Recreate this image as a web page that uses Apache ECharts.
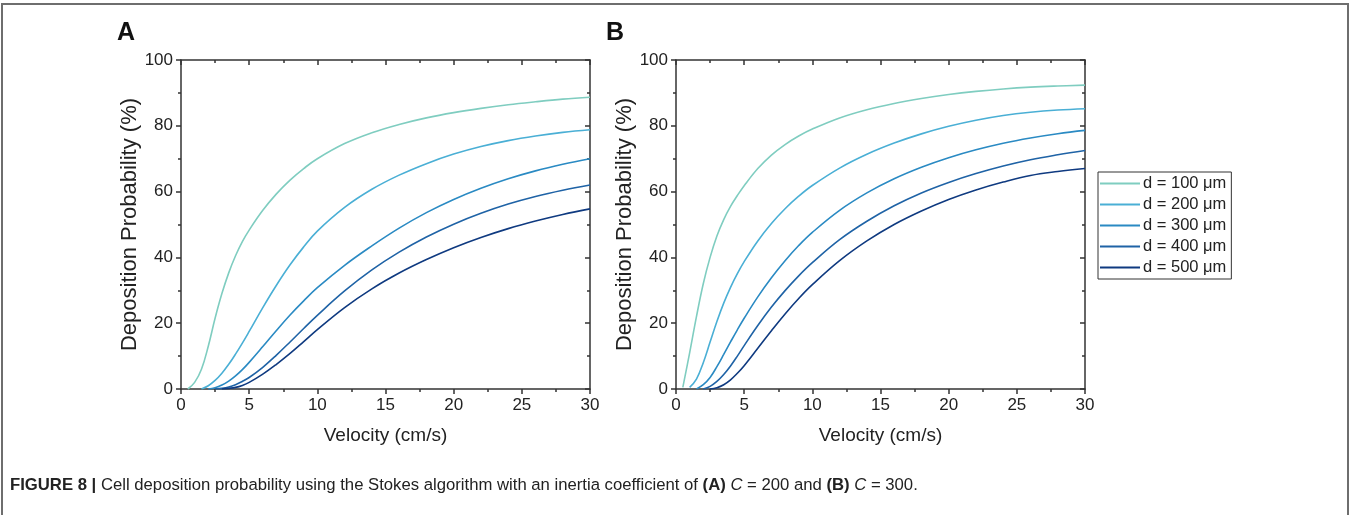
<!DOCTYPE html>
<html>
<head>
<meta charset="utf-8">
<script src="https://cdn.jsdelivr.net/npm/echarts@6/dist/echarts.min.js"></script>
<style>
  html, body { margin: 0; padding: 0; background: #fff; }
  #chart { width: 1351px; height: 515px; }
</style>
</head>
<body>
<div id="chart"></div>
<script>
// velocity samples (cm/s), shared by every curve
const velocity = [0.5, 1, 1.5, 2, 2.5, 3, 3.5, 4, 4.5, 5, 6, 7, 8, 9, 10, 12, 14, 16, 18, 20, 22, 24, 26, 28, 30];
const diameters = ['d = 100 μm', 'd = 200 μm', 'd = 300 μm', 'd = 400 μm', 'd = 500 μm'];

// panel A, C = 200
const a100 = [0, 2, 6, 13, 21.5, 29, 35.3, 40.5, 44.8, 48.3, 54.3, 59.3, 63.5, 67, 70, 74.6, 77.9, 80.4, 82.4, 84, 85.3, 86.4, 87.3, 88.1, 88.7];
const a200 = [null, null, 0, 1, 2.6, 4.8, 7.5, 10.6, 13.95, 17.5, 24.75, 31.55, 37.75, 43.2, 48, 55.2, 60.7, 65, 68.5, 71.4, 73.7, 75.5, 76.9, 78, 78.8];
const a300 = [null, null, null, 0, 0.4, 1.2, 2.4, 4, 5.9, 8.1, 12.9, 17.8, 22.5, 26.8, 30.8, 37.6, 43.5, 48.9, 53.6, 57.6, 61, 63.9, 66.3, 68.3, 70];
const a400 = [null, null, null, null, 0, 0.2, 0.6, 1.3, 2.3, 3.5, 6.6, 10.3, 14.3, 18.4, 22.4, 29.8, 36.2, 41.6, 46.2, 50.1, 53.4, 56.2, 58.5, 60.4, 62];
const a500 = [null, null, null, null, null, 0, 0.2, 0.5, 1.1, 2, 4.5, 7.5, 10.8, 14.4, 18.05, 24.75, 30.45, 35.25, 39.35, 42.95, 46.05, 48.75, 51.05, 53.05, 54.75];

// panel B, C = 300
const b100 = [0.5, 11, 22, 32, 40, 46.5, 51.5, 55.5, 58.8, 61.8, 67, 71.1, 74.3, 76.9, 79, 82.4, 84.9, 86.8, 88.3, 89.5, 90.45, 91.2, 91.75, 92.1, 92.35];
const b200 = [null, 0.5, 3, 8, 14.25, 20.5, 26.1, 30.9, 35.05, 38.7, 45, 50.3, 54.8, 58.6, 61.85, 67.15, 71.35, 74.75, 77.55, 79.85, 81.69, 83.13, 84.13, 84.79, 85.19];
const b300 = [null, null, 0, 1.3, 3.5, 6.8, 10.5, 14.3, 18, 21.5, 28, 33.8, 39, 43.6, 47.6, 54.3, 59.6, 63.9, 67.4, 70.3, 72.7, 74.7, 76.3, 77.6, 78.6];
const b400 = [null, null, null, 0, 0.8, 2.3, 4.4, 7, 10, 13.2, 19.3, 24.9, 29.9, 34.4, 38.4, 45.4, 51, 55.7, 59.6, 62.8, 65.5, 67.8, 69.7, 71.2, 72.5];
const b500 = [null, null, null, null, 0, 0.4, 1.3, 2.8, 4.8, 7.1, 12.4, 17.7, 22.8, 27.5, 31.7, 39, 45, 50, 54.1, 57.6, 60.5, 62.9, 64.9, 66.1, 67];

const colors = ['#7fcdc0', '#4aafd5', '#2a8ac3', '#1f63a6', '#0f3a80'];
const font = 'Arial, "Liberation Sans", sans-serif';
const ink = '#222';
const axisInk = '#333';

var chart = echarts.init(document.getElementById('chart'));

function pairs(vals) {
    return velocity.map((v, i) => [v, vals[i]]);
}

const grids = [
    { left: 181, top: 60, width: 409, height: 329 },
    { left: 676, top: 60, width: 409, height: 329 }
];

const tickLine = { color: axisInk, width: 1.5 };

var xAxes = [], yAxes = [];
grids.forEach((g, gi) => {
    // bottom axis with labels
    xAxes.push({
        type: 'value', gridIndex: gi, position: 'bottom', min: 0, max: 30, interval: 5,
        name: 'Velocity (cm/s)', nameLocation: 'middle', nameGap: 37,
        nameTextStyle: { fontSize: 19, color: ink, fontFamily: font },
        axisLine: { onZero: false, lineStyle: tickLine },
        axisTick: { inside: false, length: 5, lineStyle: tickLine },
        minorTick: { show: true, splitNumber: 2, length: 3, lineStyle: tickLine },
        axisLabel: { fontSize: 17, color: ink, fontFamily: font, margin: 8 },
        splitLine: { show: false }
    });
    // top frame axis
    xAxes.push({
        type: 'value', gridIndex: gi, position: 'top', min: 0, max: 30, interval: 5,
        axisLine: { show: true, onZero: false, lineStyle: tickLine },
        axisTick: { show: true, inside: true, length: 5, lineStyle: tickLine },
        minorTick: { show: true, splitNumber: 2, length: 3, lineStyle: tickLine },
        axisLabel: { show: false },
        splitLine: { show: false }
    });
    yAxes.push({
        type: 'value', gridIndex: gi, position: 'left', min: 0, max: 100, interval: 20,
        name: 'Deposition Probability (%)', nameLocation: 'middle', nameGap: 39,
        nameTextStyle: { fontSize: 22, color: ink, fontFamily: font },
        axisLine: { show: true, onZero: false, lineStyle: tickLine },
        axisTick: { show: true, inside: false, length: 5, lineStyle: tickLine },
        minorTick: { show: true, splitNumber: 2, length: 3, lineStyle: tickLine },
        axisLabel: { fontSize: 17, color: ink, fontFamily: font, margin: 8 },
        splitLine: { show: false }
    });
    // right frame axis
    yAxes.push({
        type: 'value', gridIndex: gi, position: 'right', min: 0, max: 100, interval: 20,
        axisLine: { show: true, onZero: false, lineStyle: tickLine },
        axisTick: { show: true, inside: true, length: 5, lineStyle: tickLine },
        minorTick: { show: true, splitNumber: 2, length: 3, lineStyle: tickLine },
        axisLabel: { show: false },
        splitLine: { show: false }
    });
});

const panels = [[a100, a200, a300, a400, a500], [b100, b200, b300, b400, b500]];
var series = [];
panels.forEach((set, gi) => {
    set.forEach((vals, k) => {
        series.push({
            name: diameters[k],
            type: 'line',
            xAxisIndex: gi * 2,
            yAxisIndex: gi * 2,
            data: pairs(vals),
            smooth: 0.4,
            showSymbol: false,
            lineStyle: { width: 1.6, color: colors[k] },
            itemStyle: { color: colors[k] },
            z: 1
        });
    });
    // empty series bound to the top/right frame axes
    series.push({
        type: 'line', xAxisIndex: gi * 2 + 1, yAxisIndex: gi * 2 + 1,
        data: [], showSymbol: false, silent: true
    });
});

var option = {
    animation: false,
    backgroundColor: '#fff',
    grid: grids,
    xAxis: xAxes,
    yAxis: yAxes,
    series: series,
    legend: {
        data: diameters,
        orient: 'vertical',
        left: 1098,
        top: 172,
        icon: 'rect',
        itemWidth: 40,
        itemHeight: 2,
        itemGap: 4,
        padding: [3, 5, 3, 2],
        borderColor: axisInk,
        borderWidth: 1,
        textStyle: { fontSize: 16.5, color: ink, fontFamily: font, padding: [0, 0, 0, -2], lineHeight: 17 }
    },
    graphic: [
        {
            type: 'polyline', silent: true,
            shape: { points: [[2, 515], [2, 4], [1348, 4], [1348, 515]] },
            style: { stroke: '#6e6e6e', lineWidth: 2, fill: null }
        },
        { type: 'text', left: 117, top: 21, style: { text: 'A', font: 'bold 25px ' + font, fill: '#111' } },
        { type: 'text', left: 606, top: 21, style: { text: 'B', font: 'bold 25px ' + font, fill: '#111' } },
        {
            type: 'text', left: 10, top: 477,
            style: {
                text: '{b|FIGURE 8 |} Cell deposition probability using the Stokes algorithm with an inertia coefficient of {b|(A)} {i|C} = 200 and {b|(B)} {i|C} = 300.',
                font: '16.7px ' + font,
                fill: '#222',
                rich: {
                    b: { fontWeight: 'bold', fontSize: 16.7, fontFamily: font, fill: '#222' },
                    i: { fontStyle: 'italic', fontSize: 16.7, fontFamily: font, fill: '#222' }
                }
            }
        }
    ]
};

option && chart.setOption(option);
</script>
</body>
</html>
